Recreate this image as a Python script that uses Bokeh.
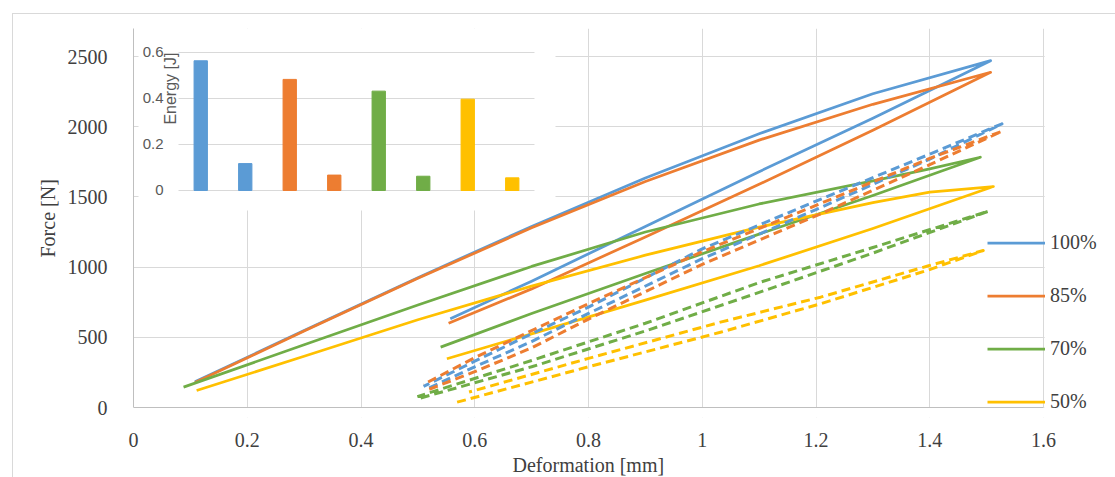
import numpy as np
from math import pi
from bokeh.plotting import figure
from bokeh.models import Range1d, FixedTicker, Legend, LegendItem, BoxAnnotation, Label, Title
from bokeh.embed import file_html
from bokeh.resources import INLINE
from bokeh.core.properties import value

# ---------------- data ----------------
series_names = ["100%", "85%", "70%", "50%"]
series_colors = ["#5B9BD5", "#ED7D31", "#70AD47", "#FFC000"]

# solid hysteresis loops (loading branch, then unloading branch)
solid_100_x = [0.108, 0.3, 0.5, 0.7, 0.9, 1.1, 1.3, 1.507, 1.3, 1.1, 0.9, 0.7, 0.557]
solid_100_y = [183, 548, 925, 1290, 1635, 1950, 2235, 2471, 2060, 1680, 1290, 900, 632]
solid_85_x = [0.108, 0.3, 0.5, 0.7, 0.9, 1.1, 1.3, 1.507, 1.3, 1.1, 0.9, 0.7, 0.554]
solid_85_y = [178, 545, 920, 1280, 1610, 1905, 2160, 2388, 1975, 1590, 1215, 845, 600]
solid_70_x = [0.088, 0.3, 0.5, 0.7, 0.9, 1.1, 1.3, 1.4, 1.489, 1.3, 1.1, 0.9, 0.7, 0.540]
solid_70_y = [145, 447, 730, 1005, 1250, 1450, 1615, 1700, 1783, 1510, 1235, 955, 670, 430]
solid_50_x = [0.111, 0.3, 0.5, 0.7, 0.9, 1.1, 1.3, 1.4, 1.512, 1.3, 1.1, 0.9, 0.7, 0.551]
solid_50_y = [121, 365, 625, 865, 1085, 1285, 1460, 1535, 1574, 1275, 1010, 765, 525, 347]

# dashed loops
dash_100_x = [0.52, 0.6, 0.7, 0.8, 1.0, 1.2, 1.4, 1.527, 1.4, 1.2, 1.0, 0.8, 0.7, 0.6, 0.51]
dash_100_y = [140, 290, 470, 670, 1060, 1410, 1770, 2021, 1805, 1470, 1130, 715, 525, 330, 150]
dash_85_x = [0.52, 0.6, 0.7, 0.8, 1.0, 1.2, 1.4, 1.527, 1.4, 1.2, 1.0, 0.8, 0.7, 0.6, 0.51]
dash_85_y = [130, 255, 425, 630, 1020, 1365, 1730, 1968, 1775, 1440, 1110, 740, 548, 355, 165]
dash_70_x = [0.505, 0.7, 0.9, 1.1, 1.3, 1.503, 1.3, 1.1, 0.9, 0.7, 0.499]
dash_70_y = [68, 290, 545, 820, 1100, 1398, 1140, 890, 600, 335, 78]
dash_50_x = [0.569, 0.8, 1.032, 1.208, 1.398, 1.494, 1.398, 1.208, 1.032, 0.8, 0.59]
dash_50_y = [38, 290, 536, 739, 980, 1118, 1010, 786, 608, 350, 110]

x_ticks = [0, 0.2, 0.4, 0.6, 0.8, 1.0, 1.2, 1.4, 1.6]
x_tick_labels = ["0", "0.2", "0.4", "0.6", "0.8", "1", "1.2", "1.4", "1.6"]
y_ticks = [0, 500, 1000, 1500, 2000, 2500]
y_tick_labels = ["0", "500", "1000", "1500", "2000", "2500"]

# inset bar chart (energy)
energy_values = [0.564, 0.117, 0.483, 0.067, 0.432, 0.062, 0.397, 0.055]
energy_colors = ["#5B9BD5", "#5B9BD5", "#ED7D31", "#ED7D31", "#70AD47", "#70AD47", "#FFC000", "#FFC000"]
energy_ticks = [0, 0.2, 0.4, 0.6]
energy_tick_labels = ["0", "0.2", "0.4", "0.6"]

# ---------------- figure ----------------
SERIF = "Liberation Serif"
TXT = "#404040"
X_MAX = x_ticks[-1]
X_VIEW_END = X_MAX * 982 / 910   # frame runs on to the page edge (room for the legend)
Y_START = -71.2                  # frame runs a little below 0 (room for the legend)
Y_END = 2700

p = figure(frame_width=982, frame_height=389,
           x_range=Range1d(0, X_VIEW_END), y_range=Range1d(Y_START, Y_END),
           output_backend="svg", toolbar_location=None,
           min_border_left=120, min_border_right=0, min_border_top=14, min_border_bottom=60,
           background_fill_color="white", border_fill_color="white", outline_line_color=None)
p.styles = {"margin-left": "12px", "margin-top": "13px",
            "border-left": "1px solid #D9D9D9", "border-top": "1px solid #D9D9D9"}

p.xgrid.ticker = FixedTicker(ticks=x_ticks)
p.ygrid.ticker = FixedTicker(ticks=y_ticks)
for g in (p.xgrid, p.ygrid):
    g.grid_line_color = "#D9D9D9"
    g.grid_line_width = 1

p.xaxis.ticker = FixedTicker(ticks=x_ticks)
p.yaxis.ticker = FixedTicker(ticks=y_ticks)
p.yaxis.bounds = (0, Y_END)
p.xaxis.axis_line_color = None
p.yaxis.axis_line_color = "#BFBFBF"
p.xaxis.major_label_overrides = {float(t): l for t, l in zip(x_ticks, x_tick_labels)}
p.yaxis.major_label_overrides = {float(t): l for t, l in zip(y_ticks, y_tick_labels)}
for ax in (p.xaxis, p.yaxis):
    ax.major_tick_line_color = None
    ax.minor_tick_line_color = None
    ax.major_label_text_font = SERIF
    ax.major_label_text_font_size = "20px"
    ax.major_label_text_color = TXT
p.xaxis.major_label_standoff = 9
p.yaxis.major_label_standoff = 20

# axis titles placed to match the original chart
p.add_layout(Title(text="Deformation [mm]", align="left", offset=379, standoff=7,
                   vertical_align="middle", text_font=SERIF, text_font_size="20px",
                   text_font_style="normal", text_color=TXT), "below")
p.add_layout(Title(text="Force [N]", align="left", offset=160, standoff=10,
                   vertical_align="middle", text_font=SERIF, text_font_size="20px",
                   text_font_style="normal", text_color=TXT), "left")

# white panels: behind the inset, beyond the x maximum and below zero
p.add_layout(BoxAnnotation(left=0.0088, right=0.742, bottom=1403, top=Y_END,
                           fill_color="white", fill_alpha=1.0, line_color=None, level="underlay"))
p.add_layout(BoxAnnotation(left=X_MAX + 0.002, right=X_VIEW_END, bottom=Y_START, top=Y_END,
                           fill_color="white", fill_alpha=1.0, line_color=None, level="underlay"))
p.add_layout(BoxAnnotation(left=0, right=X_VIEW_END, bottom=Y_START, top=0,
                           fill_color="white", fill_alpha=1.0, line_color=None, level="underlay"))

# x axis line at zero
p.segment(x0=[x_ticks[0]], x1=[x_ticks[-1]], y0=[y_ticks[0]], y1=[y_ticks[0]],
          line_color="#BFBFBF", line_width=1)

# main lines
solid_sets = [(solid_100_x, solid_100_y), (solid_85_x, solid_85_y),
              (solid_70_x, solid_70_y), (solid_50_x, solid_50_y)]
dash_sets = [(dash_100_x, dash_100_y), (dash_85_x, dash_85_y),
             (dash_70_x, dash_70_y), (dash_50_x, dash_50_y)]
solid_renderers = []
for (xs, ys), c in zip(solid_sets, series_colors):
    solid_renderers.append(p.line(xs, ys, line_color=c, line_width=2.75, line_join="round"))
for (xs, ys), c in zip(dash_sets, series_colors):
    p.line(xs, ys, line_color=c, line_width=3, line_dash="9 5", line_join="round")

# inset bar chart via extra ranges
n_cat = len(energy_values)
p.extra_x_ranges = {"cat": Range1d(-1.011, 21.056)}
p.extra_y_ranges = {"energy": Range1d(-0.987, 0.7043)}
p.segment(x0=[0] * len(energy_ticks), x1=[n_cat] * len(energy_ticks),
          y0=energy_ticks, y1=energy_ticks, line_color="#D9D9D9", line_width=1,
          x_range_name="cat", y_range_name="energy")
p.vbar(x=np.arange(n_cat) + 0.5, top=energy_values, bottom=0, width=0.3,
       fill_color=energy_colors, line_color=energy_colors,
       x_range_name="cat", y_range_name="energy")
p.text(x=[0] * len(energy_ticks), y=energy_ticks, text=energy_tick_labels,
       x_offset=-15, text_align="right", text_baseline="middle",
       text_font=value("Liberation Sans"), text_font_size="15px", text_color="#595959",
       x_range_name="cat", y_range_name="energy")
p.add_layout(Label(x=0, y=0.443, text="Energy [J]", angle=pi / 2, x_offset=-8,
                   text_align="center", text_baseline="middle",
                   text_font="Liberation Sans", text_font_size="16px", text_color="#595959",
                   x_range_name="cat", y_range_name="energy"))

# legend
legend = Legend(items=[LegendItem(label=n, renderers=[r]) for n, r in zip(series_names, solid_renderers)],
                location=(854, 4.5), orientation="vertical",
                glyph_width=58, glyph_height=23, label_height=23, label_standoff=5,
                spacing=30, padding=0, margin=0, border_line_color=None,
                background_fill_alpha=0.0,
                label_text_font=SERIF, label_text_font_size="20px", label_text_color=TXT)
p.add_layout(legend)

open("out.html", "w").write(file_html(p, INLINE))
